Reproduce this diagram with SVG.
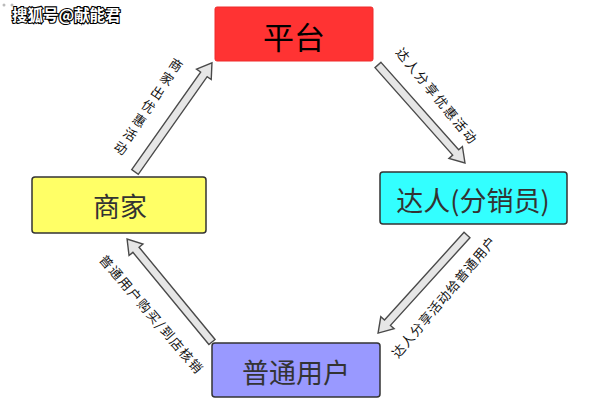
<svg xmlns="http://www.w3.org/2000/svg" width="595" height="414" viewBox="0 0 595 414">
<style>
.node{stroke:#333;stroke-width:1.5}
.nt{font-family:"Noto Sans CJK SC","Noto Sans",sans-serif;font-size:27px;fill:#333;text-anchor:middle;dominant-baseline:central}
.arr{fill:#e6e6e6;stroke:#4a4a4a;stroke-width:1.4;stroke-linejoin:miter}
.lb{font-family:"Noto Sans CJK SC","Noto Sans",sans-serif;font-size:13px;fill:#111;text-anchor:middle;dominant-baseline:central}
.wm{font-family:"Noto Sans CJK SC","Noto Sans",sans-serif;font-size:15.5px;font-weight:bold;fill:#fff;stroke:#000;stroke-width:2.2;paint-order:stroke}
</style>
<rect width="595" height="414" fill="#fff"/>
<circle cx="4" cy="5" r="1.5" fill="#bbb"/>
<circle cx="12" cy="5" r="1.5" fill="#bbb"/>
<text class="wm" x="12" y="21">搜狐号@献能君</text>
<g id="connectors">
<g id="c1" transform="translate(135,172) rotate(-54.8)"><polygon class="arr" points="0,-4 119.5,-4 119.5,-9 133.5,0 119.5,9 119.5,4 0,4"/></g>
<g id="c2" transform="translate(378,65) rotate(48.4)"><polygon class="arr" points="0,-4 117,-4 117,-9 131,0 117,9 117,4 0,4"/></g>
<g id="c3" transform="translate(467,235) rotate(132.2)"><polygon class="arr" points="0,-4 118.4,-4 118.4,-9 132.4,0 118.4,9 118.4,4 0,4"/></g>
<g id="c4" transform="translate(212,342) rotate(-129.5)"><polygon class="arr" points="0,-4 119.5,-4 119.5,-9 133.5,0 119.5,9 119.5,4 0,4"/></g>
<text class="lb" transform="translate(147.5,108) rotate(33.5)" x="0" y="0" style="writing-mode:vertical-rl;letter-spacing:3.6px">商家出优惠活动</text>
<text class="lb" transform="translate(437.5,96) rotate(50.7)" x="0" y="0" style="letter-spacing:2.1px">达人分享优惠活动</text>
<text class="lb" transform="translate(443.5,296.5) rotate(-50)" x="0" y="0" style="letter-spacing:1px">达人分享活动给普通用户</text>
<text class="lb" transform="translate(152,314) rotate(49.5)" x="0" y="0" style="letter-spacing:1.5px">普通用户购买/到店核销</text>
</g>
<g id="n-platform">
<rect x="215" y="7" width="158" height="54" rx="2" fill="#ff3333" stroke="#ee2a2a" stroke-width="1"/>
<text class="nt" x="294" y="35" style="fill:#000;font-size:31px">平台</text>
</g>
<g id="n-merchant">
<rect class="node" x="32" y="177" width="174" height="56" rx="3" fill="#ffff66"/>
<text class="nt" x="120" y="205">商家</text>
</g>
<g id="n-talent">
<rect class="node" x="380" y="172" width="187" height="52" rx="3" fill="#33ffff"/>
<text class="nt" x="473" y="199">达人(分销员)</text>
</g>
<g id="n-user">
<rect class="node" x="212" y="343" width="168" height="54" rx="3" fill="#9999ff"/>
<text class="nt" x="296" y="371">普通用户</text>
</g>
</svg>
